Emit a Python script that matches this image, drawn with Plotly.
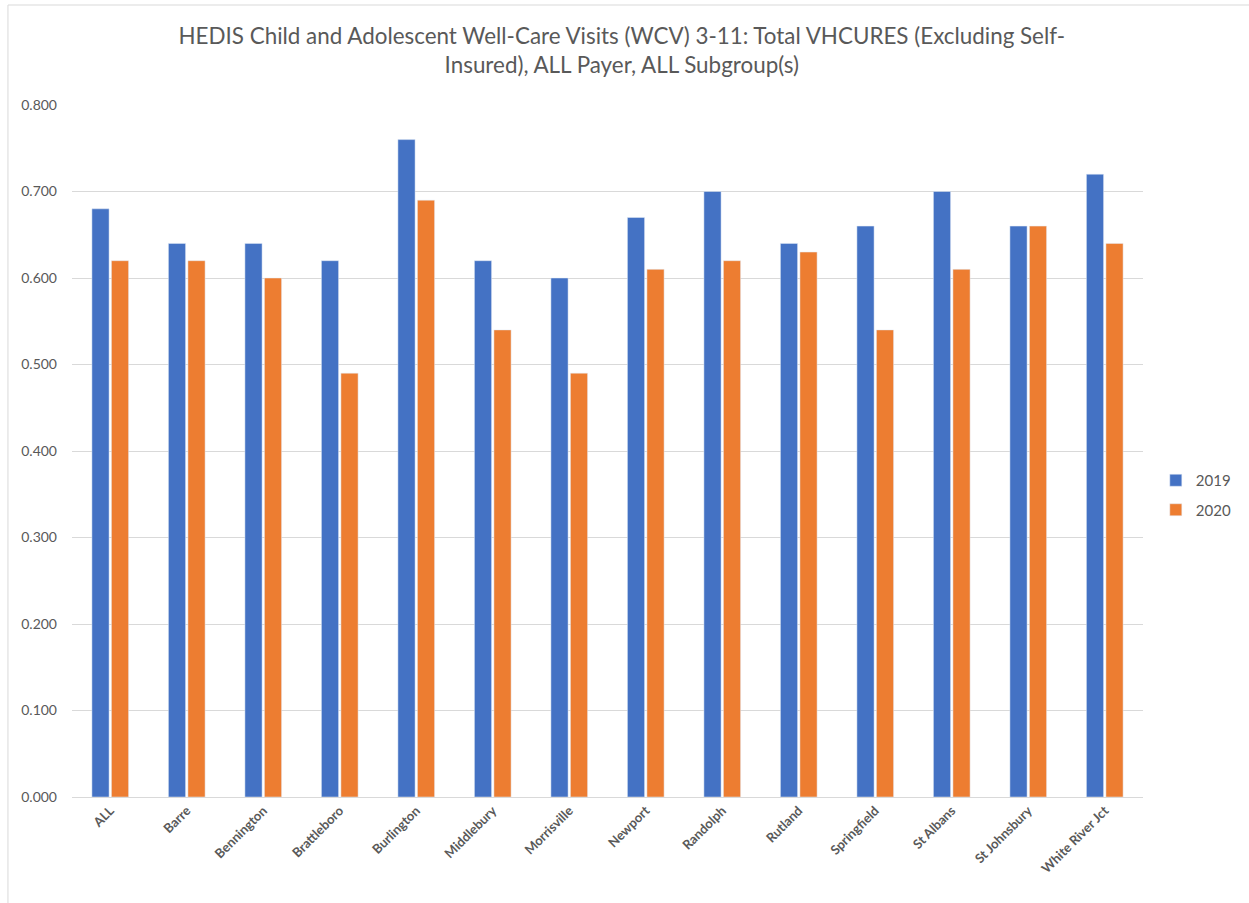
import plotly.graph_objects as go

categories = ["ALL", "Barre", "Bennington", "Brattleboro", "Burlington", "Middlebury",
              "Morrisville", "Newport", "Randolph", "Rutland", "Springfield", "St Albans",
              "St Johnsbury", "White River Jct"]
values_2019 = [0.68, 0.64, 0.64, 0.62, 0.76, 0.62, 0.60, 0.67, 0.70, 0.64, 0.66, 0.70, 0.66, 0.72]
values_2020 = [0.62, 0.62, 0.60, 0.49, 0.69, 0.54, 0.49, 0.61, 0.62, 0.63, 0.54, 0.61, 0.66, 0.64]
tick_vals = [0.0, 0.1, 0.2, 0.3, 0.4, 0.5, 0.6, 0.7, 0.8]

W, H = 1249, 903
L, R, T, B = 72, 90, 105, 106
pw, ph = W - L - R, H - T - B


def px(x):
    return (x - L) / pw


def py(y):
    return 1 - (y - T) / ph


font_fam = "Lato, Liberation Sans, sans-serif"
grey = "#595959"

fig = go.Figure()
fig.add_trace(go.Bar(name="2019", x=categories, y=values_2019, marker_color="#4472C4",
                     legendgroup="a"))
fig.add_trace(go.Bar(name="2020", x=categories, y=values_2020, marker_color="#ED7D31",
                     legendgroup="b"))

fig.update_layout(
    width=W, height=H,
    margin=dict(l=L, r=R, t=T, b=B),
    paper_bgcolor="white", plot_bgcolor="white",
    barmode="group", bargap=0.49, bargroupgap=0.12,
    title=dict(
        text="HEDIS Child and Adolescent Well-Care Visits (WCV) 3-11: Total VHCURES (Excluding Self-<br>Insured), ALL Payer, ALL Subgroup(s)",
        x=px(630), xanchor="center", xref="paper", y=1 - 44 / H, yanchor="middle",
        font=dict(family=font_fam, size=22.4, color=grey),
    ),
    font=dict(family=font_fam, color=grey),
    xaxis=dict(
        tickangle=-45,
        tickfont=dict(family=font_fam, size=13, color=grey, weight="bold"),
        showline=True, linecolor="#D9D9D9", linewidth=1,
        ticks="",
    ),
    yaxis=dict(
        range=[0, 0.8], tickvals=tick_vals, tickformat=".3f",
        tickfont=dict(family=font_fam, size=14, color=grey),
        gridcolor="#D9D9D9", gridwidth=1, zeroline=False,
        ticklabelstandoff=14,
    ),
    legend=dict(
        x=px(1172), y=py(495), xanchor="left", yanchor="middle",
        font=dict(family=font_fam, size=15, color=grey),
        bgcolor="rgba(0,0,0,0)", tracegroupgap=7, itemwidth=30,
    ),
    shapes=[
        dict(type="rect", xref="paper", yref="paper",
             x0=px(7), x1=px(1270), y0=py(920), y1=py(5),
             line=dict(color="#D9D9D9", width=1), fillcolor="rgba(0,0,0,0)", layer="below"),
    ],
)

fig.write_html("out.html", config={"displayModeBar": False},
               post_script="document.body.style.margin='0px';")
